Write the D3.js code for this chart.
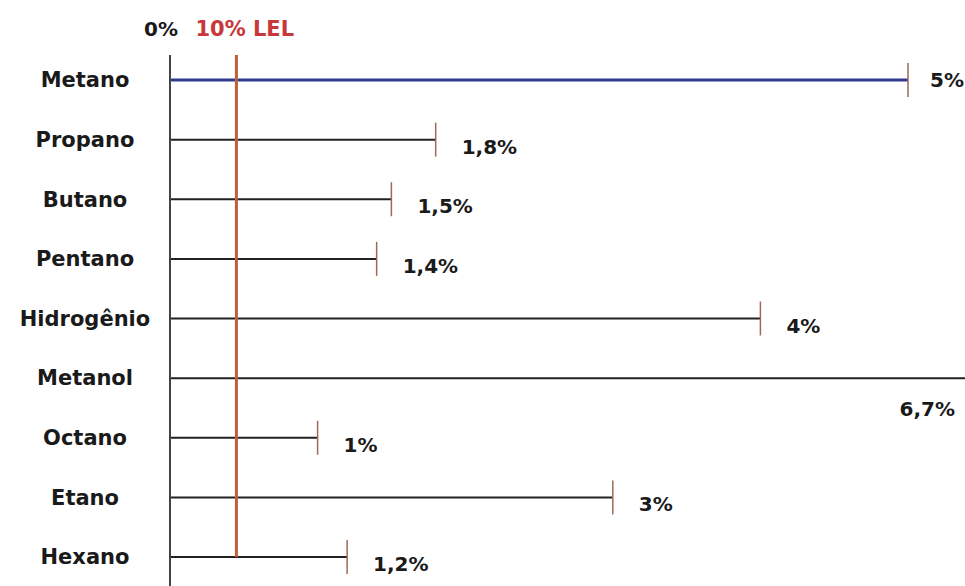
<!DOCTYPE html>
<html>
<head>
<meta charset="utf-8">
<script src="https://cdn.jsdelivr.net/npm/d3@7"></script>
<style>
  body { margin: 0; background: #fff; }
  text { font-family: "DejaVu Sans", Verdana, sans-serif; font-weight: bold; }
</style>
</head>
<body>
<svg width="965" height="586"></svg>
<script>
const gases = ['Metano', 'Propano', 'Butano', 'Pentano', 'Hidrogênio', 'Metanol', 'Octano', 'Etano', 'Hexano'];
const lel = [5, 1.8, 1.5, 1.4, 4, 6.7, 1, 3, 1.2];
const lelLabels = ['5%', '1,8%', '1,5%', '1,4%', '4%', '6,7%', '1%', '3%', '1,2%'];
const alarmMark = 0.45; // "10% LEL" reference line
const topLabels = ['0%', '10% LEL'];

const data = gases.map((g, i) => ({ gas: g, value: lel[i], label: lelLabels[i] }));

const svg = d3.select('svg');
const width = +svg.attr('width');
const height = +svg.attr('height');

// SCALES
const xScale = d3.scaleLinear()
    .domain([0, 5])
    .range([170, 908]);
const yScale = d3.scalePoint()
    .domain(gases)
    .range([80, 557]);

const inside = d => xScale(d.value) < width;

// category names
svg.append('g')
    .selectAll('text')
    .data(data)
    .enter()
    .append('text')
        .attr('x', 85)
        .attr('y', d => yScale(d.gas))
        .attr('dy', '0.35em')
        .attr('text-anchor', 'middle')
        .attr('font-size', 21)
        .attr('fill', '#1a1a1a')
        .text(d => d.gas);

// horizontal lines
svg.append('g')
    .selectAll('line')
    .data(data)
    .enter()
    .append('line')
        .attr('x1', xScale(0))
        .attr('x2', d => Math.min(xScale(d.value), width))
        .attr('y1', d => yScale(d.gas))
        .attr('y2', d => yScale(d.gas))
        .attr('stroke', (d, i) => i === 0 ? '#2f3a8f' : '#222')
        .attr('stroke-width', (d, i) => i === 0 ? 3 : 2);

// end ticks
svg.append('g')
    .selectAll('line')
    .data(data.filter(inside))
    .enter()
    .append('line')
        .attr('x1', d => xScale(d.value))
        .attr('x2', d => xScale(d.value))
        .attr('y1', d => yScale(d.gas) - 17)
        .attr('y2', d => yScale(d.gas) + 17)
        .attr('stroke', '#9a6a55')
        .attr('stroke-width', 1.5);

// value labels
svg.append('g')
    .selectAll('text')
    .data(data)
    .enter()
    .append('text')
        .attr('y', (d, i) => {
            if (!inside(d)) return yScale(d.gas) + 31;
            return yScale(d.gas) + (i === 0 ? 0 : 7);
        })
        .attr('dy', '0.35em')
        .attr('font-size', 20)
        .attr('fill', '#1a1a1a')
        .text(d => d.label)
        .attr('x', function(d) {
            const w = this.getComputedTextLength();
            if (!inside(d)) return width - 10 - w;
            return Math.min(xScale(d.value) + 26, width - 1 - w);
        });

// y axis line
svg.append('line')
    .attr('x1', xScale(0))
    .attr('x2', xScale(0))
    .attr('y1', 55)
    .attr('y2', height)
    .attr('stroke', '#444')
    .attr('stroke-width', 2);

// 10% LEL line
svg.append('line')
    .attr('x1', xScale(alarmMark))
    .attr('x2', xScale(alarmMark))
    .attr('y1', 55)
    .attr('y2', yScale(gases[gases.length - 1]))
    .attr('stroke', '#c0603a')
    .attr('stroke-width', 3);

// top labels
svg.append('text')
    .attr('x', xScale(0) + 8)
    .attr('y', 36)
    .attr('text-anchor', 'end')
    .attr('font-size', 20)
    .attr('fill', '#1a1a1a')
    .text(topLabels[0]);
svg.append('text')
    .attr('x', xScale(alarmMark) - 41)
    .attr('y', 36)
    .attr('font-size', 21)
    .attr('fill', '#c8383a')
    .text(topLabels[1]);
</script>
</body>
</html>
